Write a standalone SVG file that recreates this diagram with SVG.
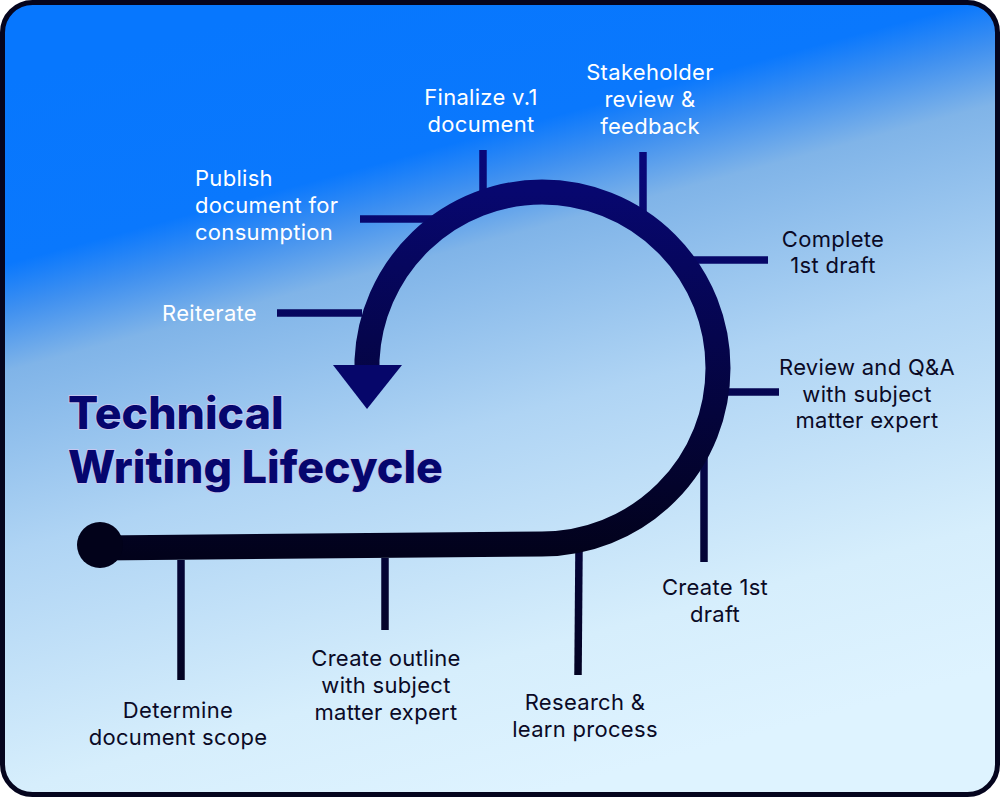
<svg xmlns="http://www.w3.org/2000/svg" width="1000" height="797" viewBox="0 0 1000 797">
<defs>
<linearGradient id="bg" gradientUnits="userSpaceOnUse" x1="300" y1="0" x2="516" y2="800">
<stop offset="0" stop-color="#0777fe"/>
<stop offset="0.215" stop-color="#0a78fd"/>
<stop offset="0.27" stop-color="#3f90f0"/>
<stop offset="0.34" stop-color="#80b4e8"/>
<stop offset="0.55" stop-color="#afd4f4"/>
<stop offset="0.83" stop-color="#d6eefc"/>
<stop offset="1" stop-color="#def3ff"/>
</linearGradient>
<linearGradient id="spiral" gradientUnits="userSpaceOnUse" x1="0" y1="190" x2="0" y2="560">
<stop offset="0" stop-color="#07076f"/>
<stop offset="1" stop-color="#02021a"/>
</linearGradient>
<linearGradient id="tick" gradientUnits="userSpaceOnUse" x1="0" y1="150" x2="0" y2="690">
<stop offset="0" stop-color="#08087a"/>
<stop offset="1" stop-color="#030320"/>
</linearGradient>
<style>
.lbl{font-family:Inter,"Noto Sans",sans-serif;font-size:22px;letter-spacing:0.3px;fill:#0a0a26;text-anchor:middle}
.w{fill:#ffffff}
.title{font-family:Inter,"Noto Sans",sans-serif;font-size:44.7px;font-weight:800;fill:#06066e;stroke:#c4c6f0;stroke-width:2;paint-order:stroke}
.tk{stroke:url(#tick);stroke-width:7.5;fill:none}
</style>
</defs>
<rect x="2.5" y="2.5" width="995" height="792" rx="30" fill="url(#bg)" stroke="#05051e" stroke-width="5"/>

<g id="connectors">
<line class="tk" x1="181" y1="560" x2="181" y2="680"/>
<line class="tk" x1="385" y1="558" x2="385" y2="630"/>
<line class="tk" x1="579" y1="550" x2="578" y2="675"/>
<line class="tk" x1="704" y1="450" x2="704" y2="562"/>
<line class="tk" x1="712" y1="392" x2="779" y2="392"/>
<line class="tk" x1="690" y1="260" x2="768" y2="260"/>
<line class="tk" x1="643" y1="152" x2="643" y2="212"/>
<line class="tk" x1="483" y1="150" x2="483" y2="192"/>
<line class="tk" x1="360" y1="219" x2="433" y2="219"/>
<line class="tk" x1="277" y1="313" x2="362" y2="313"/>
</g>

<g id="spiral">
<path d="M 100 548 L 542 544 A 176 176 0 0 0 718 368 A 176 176 0 0 0 542 192 A 176 176 0 0 0 367 360 L 367 368" fill="none" stroke="url(#spiral)" stroke-width="25"/>
<circle cx="100" cy="545" r="23" fill="#02021a"/>
<polygon points="333,365 402,365 367,409" fill="#06066a"/>
</g>

<g id="title">
<text class="title" x="68" y="429">Technical</text>
<text class="title" x="68" y="483">Writing Lifecycle</text>
</g>

<g id="n-determine"><text class="lbl" x="178" y="718">Determine</text><text class="lbl" x="178" y="745">document scope</text></g>
<g id="n-outline"><text class="lbl" x="386" y="666">Create outline</text><text class="lbl" x="386" y="693">with subject</text><text class="lbl" x="386" y="720">matter expert</text></g>
<g id="n-research"><text class="lbl" x="585" y="710">Research &amp;</text><text class="lbl" x="585" y="737">learn process</text></g>
<g id="n-create"><text class="lbl" x="715" y="595">Create 1st</text><text class="lbl" x="715" y="622">draft</text></g>
<g id="n-review"><text class="lbl" x="867" y="375">Review and Q&amp;A</text><text class="lbl" x="867" y="402">with subject</text><text class="lbl" x="867" y="428">matter expert</text></g>
<g id="n-complete"><text class="lbl" x="833" y="247">Complete</text><text class="lbl" x="833" y="273">1st draft</text></g>
<g id="n-stakeholder"><text class="lbl w" x="650" y="80">Stakeholder</text><text class="lbl w" x="650" y="107">review &amp;</text><text class="lbl w" x="650" y="134">feedback</text></g>
<g id="n-finalize"><text class="lbl w" x="481" y="105">Finalize v.1</text><text class="lbl w" x="481" y="132">document</text></g>
<g id="n-publish"><text class="lbl w" x="195" y="186" style="text-anchor:start">Publish</text><text class="lbl w" x="195" y="213" style="text-anchor:start">document for</text><text class="lbl w" x="195" y="240" style="text-anchor:start">consumption</text></g>
<g id="n-reiterate"><text class="lbl w" x="162" y="321" style="text-anchor:start">Reiterate</text></g>
</svg>
